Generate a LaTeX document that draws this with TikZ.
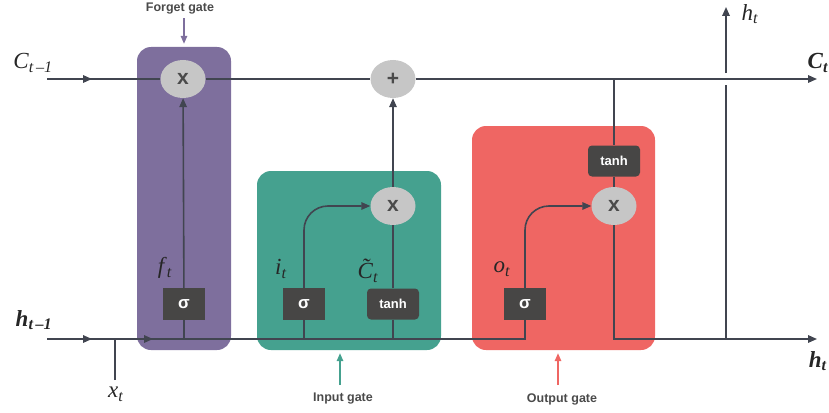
\documentclass[tikz,border=0pt]{standalone}
\usepackage{fontspec}
\setmainfont{Liberation Serif}
\setsansfont{Liberation Sans}
\usetikzlibrary{arrows.meta,decorations.markings,shapes.geometric}

\definecolor{forgetcol}{HTML}{7E6F9D}
\definecolor{inputcol}{HTML}{45A18F}
\definecolor{outputcol}{HTML}{EF6663}
\definecolor{wirecol}{HTML}{414550}
\definecolor{opcol}{HTML}{C6C6C6}
\definecolor{actcol}{HTML}{474645}
\definecolor{textcol}{HTML}{4A4A4A}

\newcommand{\lstmvar}[2]{\textit{#1}\textsubscript{\textit{#2}}}
% C with a tilde on top
\newcommand{\candC}{\rlap{\hspace{4pt}\raisebox{4pt}{˜}}C}

\begin{document}
\begin{tikzpicture}[x=1pt,y=-1pt,
  wire/.style={draw=wirecol,line width=1.6pt},
  tip/.style={-{Triangle[length=9pt,width=7.5pt]}},
  op/.style={ellipse,fill=opcol,minimum width=45pt,minimum height=38pt,inner sep=0pt,
    font=\sffamily\bfseries\fontsize{21}{21}\selectfont,text=textcol},
  act/.style={fill=actcol,text=white,font=\sffamily\bfseries\fontsize{13}{13}\selectfont,
    minimum width=42pt,minimum height=32pt,inner sep=0pt},
  sig/.style={act,font=\sffamily\bfseries\fontsize{17}{17}\selectfont},
  tanhbox/.style={act,rounded corners=4pt,minimum width=52pt,minimum height=31pt},
  gatebox/.style={rounded corners=14pt,inner sep=0pt},
  gatename/.style={font=\sffamily\bfseries\fontsize{12.5}{14}\selectfont,text=textcol},
  pointer/.style={line width=1.4pt,-{Triangle[length=8pt,width=6.5pt]},shorten >=3pt},
  var/.style={font=\fontsize{23}{25}\selectfont,text=black!85},
  cmarks/.style={postaction={decorate},decoration={markings,
    mark=at position 45pt with {\arrow{Triangle[length=9pt,width=7.5pt]}}}},
  hmarks/.style={postaction={decorate},decoration={markings,
    mark=at position 45pt with {\arrow{Triangle[length=9pt,width=7.5pt]}},
    mark=at position 106pt with {\arrow{Triangle[length=9pt,width=7.5pt]}}}}]
\useasboundingbox (0,0) rectangle (829,412);

% gate backgrounds
\node[gatebox,fill=forgetcol,minimum width=94pt,minimum height=303pt] (forget) at (184,198.5) {};
\node[gatebox,fill=inputcol,minimum width=184pt,minimum height=179pt] (input) at (349,260.5) {};
\node[gatebox,fill=outputcol,minimum width=183pt,minimum height=224pt] (output) at (563.5,238) {};

% pointwise operations
\node[op] (fmul) at (183,79) {x};
\node[op] (plus) at (393,79) {+};
\node[op] (imul) at (393,206) {x};
\node[op] (omul) at (614,206) {x};

% activations
\node[sig] (fsig) at (184,304) {σ};
\node[sig] (isig) at (304,304) {σ};
\node[tanhbox] (itanh) at (393,304) {tanh};
\node[sig] (osig) at (525,304) {σ};
\node[tanhbox] (otanh) at (614,161) {tanh};

% ends of the wires
\coordinate (cin) at (47,79);
\coordinate (cout) at (817,79);
\coordinate (hin) at (47,339);
\coordinate (hout) at (817,339);
\coordinate (xin) at (115,380);
\coordinate (cbranch) at (614,79);
\coordinate (htap) at (726,339);
\coordinate (gapb) at (726,85);
\coordinate (gapt) at (726,73);
\coordinate (htop) at (726,7);

% cell state
\draw[wire,cmarks] (cin) -- (fmul);
\draw[wire] (fmul) -- (plus);
\draw[wire,tip] (plus) -- (cout);

% hidden state and input
\draw[wire,hmarks] (hin) -| (osig.south);
\draw[wire] (xin) -- (xin |- hin);
\draw[wire] (fsig.south) -- (fsig.south |- hin);
\draw[wire] (isig.south) -- (isig.south |- hin);
\draw[wire] (itanh.south) -- (itanh.south |- hin);

% forget gate
\draw[wire,tip] (fsig) -- (fmul);
% input gate
\draw[wire,tip,rounded corners=24pt] (isig.north) |- (imul.west);
\draw[wire] (itanh) -- (imul);
\draw[wire,tip] (imul) -- (plus);
% output gate
\draw[wire,tip,rounded corners=24pt] (osig.north) |- (omul.west);
\draw[wire] (cbranch) -- (otanh);
\draw[wire] (otanh) -- (omul);
\draw[wire,tip] (omul.south) |- (hout);
\draw[wire] (htap) -- (gapb);
\draw[wire,tip] (gapt) -- (htop);

% variable names
\node[var] (clast) at (33,63) {\lstmvar{C}{t\,–1}};
\node[var] (hlast) at (34,320) {\textbf{\lstmvar{h}{t\,–1}}};
\node[var] (xnow) at (116,394) {\lstmvar{x}{t}};
\node[var] (fvar) at (165,268) {\lstmvar{f}{t}};
\node[var] (ivar) at (281,269) {\lstmvar{i}{t}};
\node[var] (cvar) at (368,271) {\lstmvar{\candC}{t}};
\node[var] (ovar) at (502,269) {\lstmvar{o}{t}};
\node[var] (htopvar) at (750,14) {\lstmvar{h}{t}};
\node[var] (cnow) at (818,63) {\textbf{\lstmvar{C}{t}}};
\node[var] (hnow) at (818,361) {\textbf{\lstmvar{h}{t}}};

% gate names
\node[gatename] (fgname) at (180,9) {Forget gate};
\node[gatename] (igname) at (343,399) {Input gate};
\node[gatename] (ogname) at (562,399) {Output gate};
\draw[forgetcol,pointer] (fgname.south -| forget.north) -- (forget.north);
\draw[inputcol,pointer] (340,385) -- (input.south -| 340,0);
\draw[outputcol,pointer] (558,385) -- (output.south -| 558,0);
\end{tikzpicture}
\end{document}
